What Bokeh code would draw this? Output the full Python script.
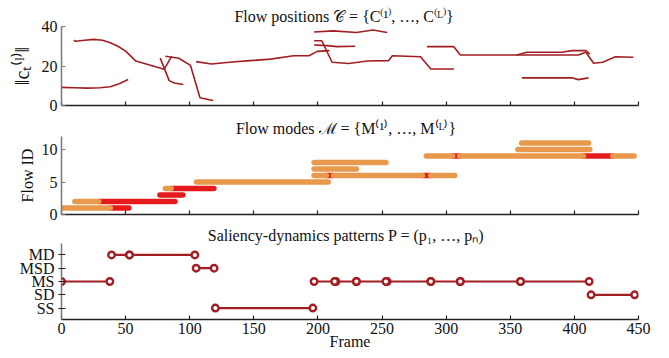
from bokeh.plotting import figure
from bokeh.layouts import column
from bokeh.models import FixedTicker, Range1d, FactorRange
from bokeh.embed import file_html
from bokeh.resources import INLINE

# ---------------- data ----------------
frame_ticks = [0, 50, 100, 150, 200, 250, 300, 350, 400, 450]

# Panel 1: flow positions ||c_t^(l)||, one polyline per flow
flow_a_frames = [0, 10, 20, 30, 38, 45, 52]
flow_a_norm = [9.2, 9.0, 8.8, 9.0, 9.5, 11.0, 13.2]
flow_b_frames = [9.6, 11, 18, 25, 32, 38, 44, 50, 54, 58, 66, 74, 80, 86]
flow_b_norm = [33.0, 32.5, 33.0, 33.5, 33.0, 31.8, 30.0, 27.5, 25.0, 22.5, 21.0, 19.5, 18.3, 25.0]
flow_c_frames = [77, 84, 88, 95]
flow_c_norm = [24.0, 12.6, 11.4, 10.6]
flow_d_frames = [81, 91.5, 100.6, 108, 118.3]
flow_d_norm = [24.9, 23.9, 20.3, 3.9, 2.5]
flow_e_frames = [105, 117, 133, 147, 163, 181, 193, 199.5, 209]
flow_e_norm = [22.2, 21.0, 22.0, 22.7, 23.5, 25.2, 25.2, 27.4, 27.8]
flow_f_frames = [197, 212, 230, 243, 254]
flow_f_norm = [37.2, 37.8, 37.0, 38.2, 37.0]
flow_g_frames = [197, 203, 211, 224, 238.5, 255, 258, 280, 288, 306]
flow_g_norm = [32.8, 32.8, 21.9, 21.3, 22.5, 22.7, 25.2, 24.7, 18.5, 18.5]
flow_h_frames = [197, 207, 215, 229]
flow_h_norm = [30.6, 30.3, 29.8, 30.0]
flow_i_frames = [285, 306, 311, 356, 403, 409, 415, 422, 432, 446]
flow_i_norm = [29.8, 29.8, 25.6, 25.6, 25.6, 27.0, 21.4, 21.9, 24.7, 24.4]
flow_j_frames = [355, 363, 390, 398, 409, 412]
flow_j_norm = [25.6, 27.0, 27.0, 27.8, 27.8, 26.0]
flow_k_frames = [359, 398, 403, 411]
flow_k_norm = [14.0, 14.0, 13.1, 14.0]

# Panel 2: flow modes (flow id, start frame, end frame, mode)
mode_flow_id = [1, 1, 2, 2, 3, 4, 4, 5, 6, 6, 6, 6, 6, 7, 8, 9, 9, 9, 9, 9, 10, 11]
mode_start = [1.4, 38, 10.5, 29, 76.8, 81, 85.5, 105.3, 197, 206.5, 212, 281.5, 288,
              197, 197, 284.5, 305, 310.5, 407, 430, 356, 359]
mode_end = [38, 52.5, 29, 88.5, 94.6, 85.5, 118.8, 208, 206.5, 212, 281.5, 288, 306.6,
            230, 253, 305, 310.5, 407, 430, 446.5, 412, 411]
mode_kind = ["static", "dynamic", "static", "dynamic", "dynamic", "static", "dynamic",
             "static", "static", "dynamic", "static", "dynamic", "static", "static",
             "static", "static", "dynamic", "static", "dynamic", "static", "static",
             "static"]

# Panel 3: saliency-dynamics patterns
pattern_levels = ["SS", "SD", "MS", "MSD", "MD"]
seg_pattern = ["MS", "MD", "MD", "MSD", "SS", "MS", "MS", "MS", "MS", "MS", "MS", "MS", "SD"]
seg_start = [0, 39, 53, 105, 120, 197, 214, 230, 254, 288, 311, 358, 413]
seg_end = [37.7, 53, 104, 119, 196, 213, 230, 253, 288, 311, 358, 411.5, 447]

# ---------------- style ----------------
FONT = "Liberation Serif"
LINE_RED = "#A21E22"
ORANGE = "#E8994C"
RED = "#E41A1C"
kind_color = {"static": ORANGE, "dynamic": RED}
W = 669


def style(p, show_x_labels=False):
    p.outline_line_color = None
    p.xgrid.visible = False
    p.ygrid.visible = False
    p.background_fill_color = "white"
    p.border_fill_color = "white"
    p.min_border_left = 61
    p.min_border_right = 31
    p.title.text_font = FONT
    p.title.text_font_size = "16px"
    p.title.text_font_style = "normal"
    p.title.text_color = "#111111"
    p.title.align = "center"
    p.title.standoff = 0
    p.title.offset = 0
    for ax in p.axis:
        ax.major_label_text_font = FONT
        ax.major_label_text_font_size = "16px"
        ax.major_label_text_color = "#111111"
        ax.axis_label_text_font = FONT
        ax.axis_label_text_font_style = "normal"
        ax.axis_label_text_font_size = "16px"
        ax.axis_label_text_color = "#111111"
        ax.minor_tick_line_color = None
        ax.major_tick_in = 4
        ax.major_tick_out = 0
        ax.axis_line_width = 1.5
        ax.major_tick_line_width = 1.2
        ax.major_label_standoff = 4
    p.xaxis.axis_line_color = "#222222"
    p.xaxis.major_tick_line_color = "#222222"
    p.yaxis.axis_line_color = "#777777"
    p.yaxis.major_tick_line_color = "#777777"
    p.xaxis.ticker = FixedTicker(ticks=frame_ticks)
    if not show_x_labels:
        # ticks only, labels not painted
        p.xaxis.major_label_text_color = None
        p.xaxis.major_label_text_font_size = "6px"
        p.xaxis.major_label_standoff = 0


# Panel 1
p1 = figure(width=W, height=115, output_backend="svg", toolbar_location=None,
            x_range=Range1d(0, 450), y_range=Range1d(0, 40),
            title="Flow positions   \U0001D49E = {C\u207D\u00B9\u207E, \u2026, C\u207D\u1D38\u207E}")
style(p1)
p1.min_border_top = 26
p1.min_border_bottom = 10
p1.title.standoff = 3
p1.yaxis.ticker = FixedTicker(ticks=[0, 20, 40])
p1.yaxis.axis_label = "\u2016c\u209C\u207D\u02E1\u207E\u2016"
p1.yaxis.axis_label_text_font_size = "20px"
p1.yaxis.axis_label_standoff = 6
p1.multi_line(
    xs=[flow_a_frames, flow_b_frames, flow_c_frames, flow_d_frames, flow_e_frames,
        flow_f_frames, flow_g_frames, flow_h_frames, flow_i_frames, flow_j_frames,
        flow_k_frames],
    ys=[flow_a_norm, flow_b_norm, flow_c_norm, flow_d_norm, flow_e_norm,
        flow_f_norm, flow_g_norm, flow_h_norm, flow_i_norm, flow_j_norm,
        flow_k_norm],
    line_color=LINE_RED, line_width=1.6)

# Panel 2
p2 = figure(width=W, height=109, output_backend="svg", toolbar_location=None,
            x_range=Range1d(0, 450), y_range=Range1d(0, 12),
            title="Flow modes   \u2133 = {M\u207D\u00B9\u207E, \u2026, M\u207D\u1D38\u207E}")
style(p2)
p2.min_border_top = 21
p2.min_border_bottom = 10
p2.yaxis.ticker = FixedTicker(ticks=[0, 5, 10])
p2.yaxis.axis_label = "Flow ID"
p2.yaxis.axis_label_standoff = 3
for kind in ["dynamic", "static"]:
    idx = [i for i, k in enumerate(mode_kind) if k == kind]
    p2.segment(x0=[mode_start[i] for i in idx], y0=[mode_flow_id[i] for i in idx],
               x1=[mode_end[i] for i in idx], y1=[mode_flow_id[i] for i in idx],
               line_color=kind_color[kind], line_width=5.6, line_cap="round")

# Panel 3
p3 = figure(width=W, height=134, output_backend="svg", toolbar_location=None,
            x_range=Range1d(0, 450),
            y_range=FactorRange(factors=pattern_levels, range_padding=0.36,
                                range_padding_units="absolute"),
            title="Saliency-dynamics patterns   P = (p\u2081, \u2026, p\u2099)")
style(p3, show_x_labels=True)
p3.min_border_top = 19
p3.min_border_bottom = 39
p3.xaxis.axis_label = "Frame"
p3.xaxis.axis_label_standoff = -4
p3.xaxis.major_label_standoff = 3
p3.yaxis.major_label_standoff = 4
p3.yaxis.major_tick_out = 3
p3.yaxis.major_tick_line_color = "#222222"
p3.segment(x0=seg_start, y0=seg_pattern, x1=seg_end, y1=seg_pattern,
           line_color=LINE_RED, line_width=2.2)
p3.scatter(x=seg_start + seg_end, y=seg_pattern + seg_pattern, marker="circle",
           size=6.5, line_color=LINE_RED, line_width=2.4, fill_color="white")

layout = column(p1, p2, p3, spacing=0)
open("out.html", "w").write(file_html(layout, INLINE))
